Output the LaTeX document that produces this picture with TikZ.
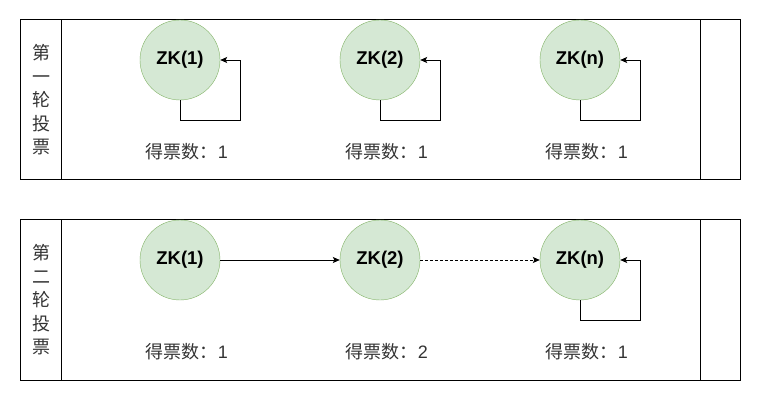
\documentclass[tikz,border=0pt]{standalone}
\usepackage{fontspec}
\setmainfont{Liberation Sans}
\newfontfamily\cjk{Noto Sans CJK SC}
\usetikzlibrary{arrows.meta}
\definecolor{zkfill}{HTML}{D5E8D4}
\definecolor{zkdraw}{HTML}{82B366}
\definecolor{txt}{HTML}{333333}
\newcommand{\votes}[1]{{\cjk 得票数：}#1}
\begin{document}
\begin{tikzpicture}[x=1pt,y=-1pt,
  zk/.style={circle,draw=zkdraw,fill=zkfill,minimum size=80pt,inner sep=0pt,
    font=\fontsize{18.5}{20}\selectfont\bfseries},
  lane/.style={draw=black,line width=1pt},
  vote/.style={font=\fontsize{18}{20}\selectfont,text=txt,inner sep=0pt},
  roundlbl/.style={font=\cjk\fontsize{18}{23.5}\selectfont,text=txt,align=center,inner sep=0pt},
  link/.style={draw=black,line width=0.9pt,-{Stealth[length=7pt,width=6pt,inset=1.5pt]}},
  dlink/.style={link,dashed,dash pattern=on 3pt off 2pt}]
\useasboundingbox (0,0) rectangle (761,401);
% top lane
\draw[lane] (20,20) rectangle (740,180);
\draw[lane] (61,20) -- (61,180);
\draw[lane] (700,20) -- (700,180);
\node[roundlbl] (r1) at (41,100) {第\\一\\轮\\投\\票};
\node[zk] (a1) at (180,60) {ZK(1)};
\node[zk] (a2) at (380,60) {ZK(2)};
\node[zk] (an) at (580,60) {ZK(n)};
\node[vote] (va1) at (187,152) {\votes{1}};
\node[vote] (va2) at (387,152) {\votes{1}};
\node[vote] (van) at (587,152) {\votes{1}};
\coordinate (la1) at ([xshift=20pt]a1.east);
\coordinate (la2) at ([xshift=20pt]a2.east);
\coordinate (lan) at ([xshift=20pt]an.east);
\draw[link] (a1.south) -- ++(0,20) -| (la1) -- (a1.east);
\draw[link] (a2.south) -- ++(0,20) -| (la2) -- (a2.east);
\draw[link] (an.south) -- ++(0,20) -| (lan) -- (an.east);
% bottom lane
\draw[lane] (20,220) rectangle (740,380);
\draw[lane] (61,220) -- (61,380);
\draw[lane] (700,220) -- (700,380);
\node[roundlbl] (r2) at (41,300) {第\\二\\轮\\投\\票};
\node[zk] (b1) at (180,260) {ZK(1)};
\node[zk] (b2) at (380,260) {ZK(2)};
\node[zk] (bn) at (580,260) {ZK(n)};
\node[vote] (vb1) at (187,352) {\votes{1}};
\node[vote] (vb2) at (387,352) {\votes{2}};
\node[vote] (vbn) at (587,352) {\votes{1}};
\coordinate (lbn) at ([xshift=20pt]bn.east);
\draw[link] (b1) -- (b2);
\draw[dlink] (b2) -- (bn);
\draw[link] (bn.south) -- ++(0,20) -| (lbn) -- (bn.east);
\end{tikzpicture}
\end{document}
